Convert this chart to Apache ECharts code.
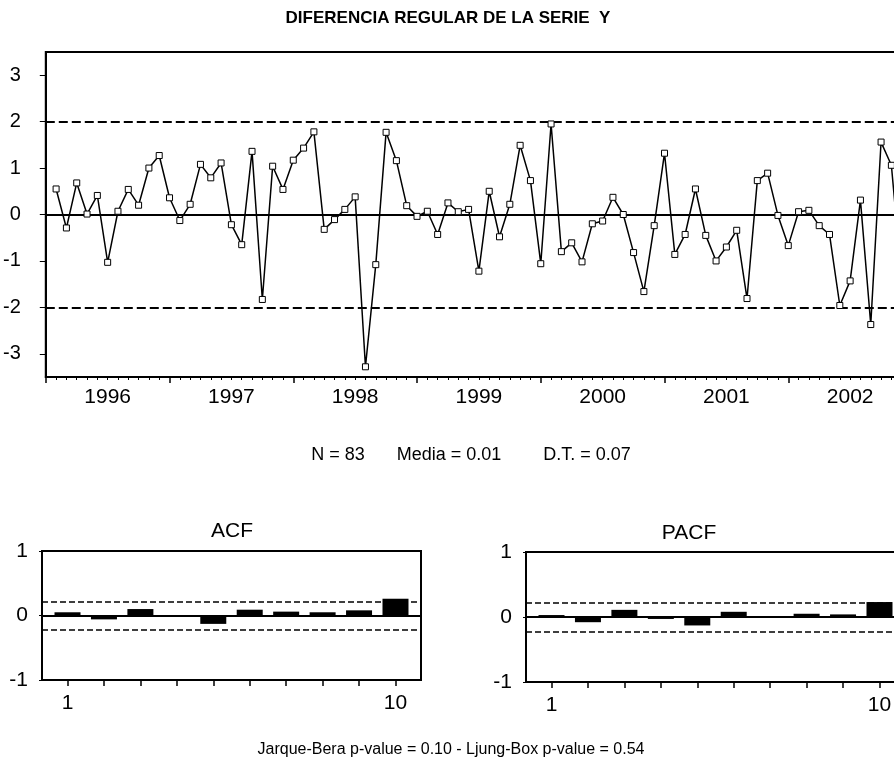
<!DOCTYPE html>
<html>
<head>
<meta charset="utf-8">
<script src="https://cdn.jsdelivr.net/npm/echarts@6.0.0/dist/echarts.min.js"></script>
<style>
  html, body { margin: 0; padding: 0; background: #fff; overflow: hidden; }
  #chart { width: 930px; height: 776px; }
</style>
</head>
<body>
<div id="chart"></div>
<script>
// serie diferenciada (estandarizada), mensual feb-1996 .. dic-2002
const diffY = [
  0.55, -0.29, 0.68, 0.01, 0.41, -1.03, 0.07, 0.54, 0.20, 1.00,
  1.27, 0.36, -0.13, 0.22, 1.08, 0.79, 1.11, -0.22, -0.65, 1.36,
  -1.83, 1.04, 0.54, 1.17, 1.43, 1.78, -0.32, -0.11, 0.11, 0.38,
  -3.28, -1.08, 1.77, 1.16, 0.19, -0.04, 0.07, -0.43, 0.25, 0.06,
  0.11, -1.22, 0.50, -0.48, 0.22, 1.49, 0.73, -1.06, 1.95, -0.80,
  -0.61, -1.02, -0.20, -0.14, 0.37, 0.00, -0.82, -1.66, -0.24, 1.32,
  -0.86, -0.43, 0.55, -0.45, -1.00, -0.70, -0.34, -1.81, 0.73, 0.89,
  -0.02, -0.67, 0.06, 0.09, -0.24, -0.43, -1.96, -1.43, 0.31, -2.37,
  1.56, 1.06, -1.40
]
const firstMonth = 1 // febrero de 1996 (0 = enero 1996)
const yearLabels = ['1996', '1997', '1998', '1999', '2000', '2001', '2002']
const yTicks = [-3, -2, -1, 0, 1, 2, 3]

const lags = [1, 2, 3, 4, 5, 6, 7, 8, 9, 10]
const acfValues = [0.05, -0.06, 0.10, -0.01, -0.13, 0.09, 0.06, 0.05, 0.08, 0.26]
const pacfValues = [0.03, -0.08, 0.11, -0.03, -0.13, 0.08, 0.01, 0.05, 0.04, 0.23]
const band = 0.22

const FONT = 'Liberation Sans'
const black = '#000'

let myChart = echarts.init(document.getElementById('chart'))

function refLines (limit, dash, width) {
  return {
    silent: true,
    symbol: 'none',
    label: { show: false },
    animation: false,
    data: [
      { yAxis: limit, lineStyle: { color: black, type: dash, width: width } },
      { yAxis: -limit, lineStyle: { color: black, type: dash, width: width } },
      { yAxis: 0, lineStyle: { color: black, type: 'solid', width: 2 } }
    ]
  }
}

function lagXAxis (idx) {
  return {
    gridIndex: idx,
    type: 'value',
    min: 0.3,
    max: 10.7,
    axisLine: { onZero: false, lineStyle: { color: black, width: 2 } },
    axisTick: { customValues: lags, length: 6, lineStyle: { color: black, width: 1.5 } },
    axisLabel: { customValues: [1, 10], color: black, fontFamily: FONT, fontSize: 21, margin: 13 },
    splitLine: { show: false }
  }
}

function corrYAxis (idx) {
  return {
    gridIndex: idx,
    type: 'value',
    min: -1,
    max: 1,
    axisLine: { show: true, onZero: false, lineStyle: { color: black, width: 2 } },
    axisTick: { show: true, customValues: [-1, 0, 1], length: 3, lineStyle: { color: black } },
    axisLabel: { customValues: [-1, 0, 1], color: black, fontFamily: FONT, fontSize: 21, margin: 14 },
    splitLine: { show: false }
  }
}

let option = {
  animation: false,
  backgroundColor: '#fff',
  grid: [
    { left: 42, top: 52, width: 870, height: 325, show: true, borderColor: black, borderWidth: 2 },
    { left: 42, top: 551, width: 379, height: 129, show: true, borderColor: black, borderWidth: 2 },
    { left: 526, top: 552, width: 379, height: 130, show: true, borderColor: black, borderWidth: 2 }
  ],
  xAxis: [
    {
      gridIndex: 0,
      type: 'value',
      min: 0,
      max: 84,
      interval: 12,
      axisLine: { onZero: false, lineStyle: { color: black, width: 2 } },
      axisTick: { length: 6, lineStyle: { color: black, width: 1.5 } },
      minorTick: { show: true, splitNumber: 12, length: 3, lineStyle: { color: black } },
      axisLabel: {
        customValues: yearLabels.map((y, k) => 6 + 12 * k),
        formatter: v => yearLabels[Math.round((v - 6) / 12)],
        color: black,
        fontFamily: FONT,
        fontSize: 21,
        margin: 10
      },
      splitLine: { show: false }
    },
    lagXAxis(1),
    lagXAxis(2)
  ],
  yAxis: [
    {
      gridIndex: 0,
      type: 'value',
      min: -3.5,
      max: 3.5,
      axisLine: { show: true, onZero: false, lineStyle: { color: black, width: 2 } },
      axisTick: { show: true, customValues: yTicks, length: 6, lineStyle: { color: black } },
      axisLabel: { customValues: yTicks, color: black, fontFamily: FONT, fontSize: 20, margin: 25 },
      splitLine: { show: false }
    },
    corrYAxis(1),
    corrYAxis(2)
  ],
  series: [
    {
      type: 'line',
      xAxisIndex: 0,
      yAxisIndex: 0,
      data: diffY.map((v, i) => [firstMonth + i, v]),
      symbol: 'rect',
      symbolSize: 6,
      lineStyle: { color: black, width: 1.5 },
      itemStyle: { color: '#fff', borderColor: black, borderWidth: 1 },
      markLine: refLines(2, [9, 4], 2),
      z: 5
    },
    {
      type: 'bar',
      xAxisIndex: 1,
      yAxisIndex: 1,
      data: lags.map((l, i) => [l, acfValues[i]]),
      barWidth: 26,
      itemStyle: { color: black },
      markLine: refLines(band, [6, 3], 1.5)
    },
    {
      type: 'bar',
      xAxisIndex: 2,
      yAxisIndex: 2,
      data: lags.map((l, i) => [l, pacfValues[i]]),
      barWidth: 26,
      itemStyle: { color: black },
      markLine: refLines(band, [6, 3], 1.5)
    }
  ],
  graphic: [
    { type: 'text', x: 448, y: 18, style: { text: 'DIFERENCIA REGULAR DE LA SERIE  Y', fontFamily: FONT, fontSize: 17, fontWeight: 'bold', fill: black, textAlign: 'center', textVerticalAlign: 'middle' } },
    { type: 'text', x: 338, y: 455, style: { text: 'N = 83', fontFamily: FONT, fontSize: 18, fill: black, textAlign: 'center', textVerticalAlign: 'middle' } },
    { type: 'text', x: 449, y: 455, style: { text: 'Media = 0.01', fontFamily: FONT, fontSize: 18, fill: black, textAlign: 'center', textVerticalAlign: 'middle' } },
    { type: 'text', x: 587, y: 455, style: { text: 'D.T. = 0.07', fontFamily: FONT, fontSize: 18, fill: black, textAlign: 'center', textVerticalAlign: 'middle' } },
    { type: 'text', x: 232, y: 531, style: { text: 'ACF', fontFamily: FONT, fontSize: 21, fill: black, textAlign: 'center', textVerticalAlign: 'middle' } },
    { type: 'text', x: 689, y: 533, style: { text: 'PACF', fontFamily: FONT, fontSize: 21, fill: black, textAlign: 'center', textVerticalAlign: 'middle' } },
    { type: 'text', x: 451, y: 750, style: { text: 'Jarque-Bera p-value = 0.10 - Ljung-Box p-value = 0.54', fontFamily: FONT, fontSize: 16, fill: black, textAlign: 'center', textVerticalAlign: 'middle' } }
  ]
}
myChart.setOption(option)
</script>
</body>
</html>
